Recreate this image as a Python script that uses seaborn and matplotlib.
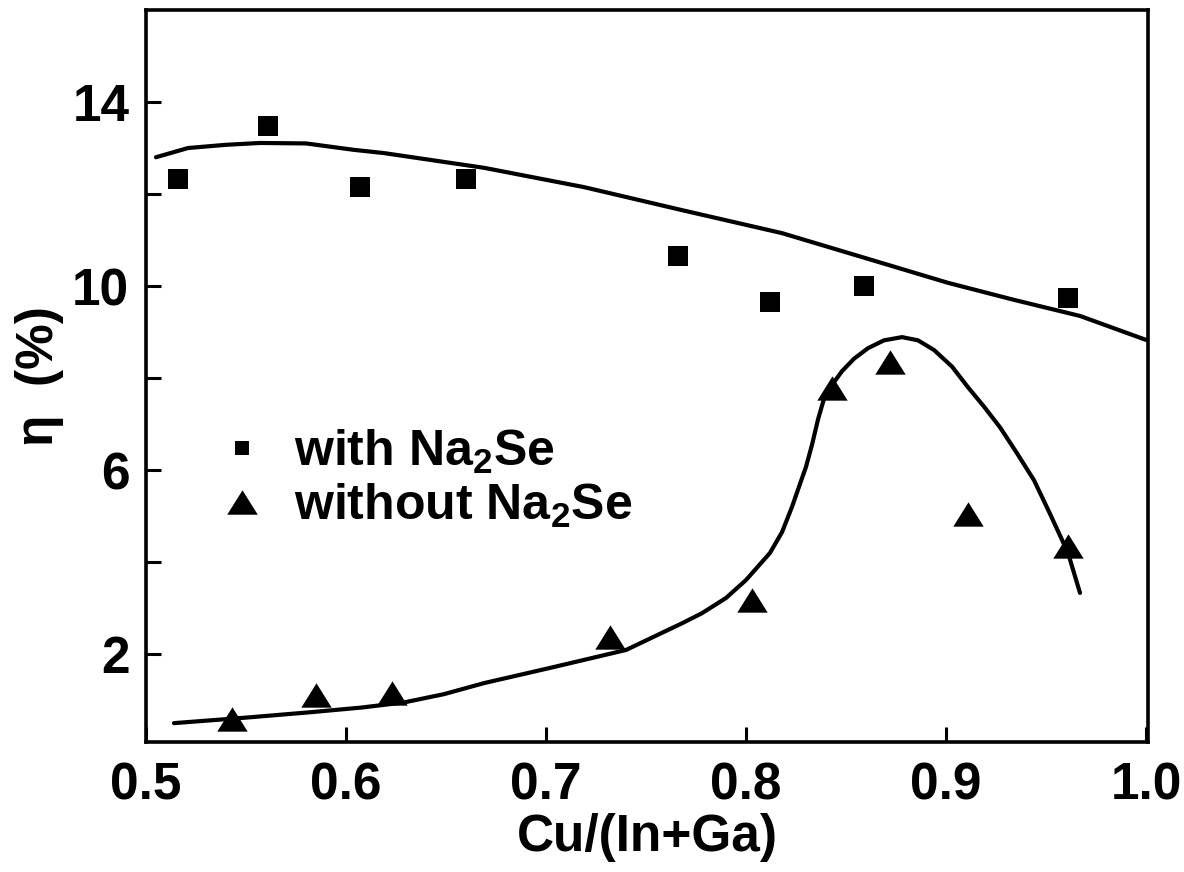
import matplotlib
matplotlib.use("Agg")
import matplotlib.pyplot as plt
from matplotlib.lines import Line2D
from matplotlib.ticker import FixedLocator
import seaborn as sns

# ---- data ----
x_with = [0.516, 0.561, 0.607, 0.660, 0.766, 0.812, 0.859, 0.961]
y_with = [12.33, 13.48, 12.15, 12.33, 10.65, 9.65, 10.00, 9.74]

x_without = [0.543, 0.585, 0.623, 0.732, 0.803, 0.843, 0.872, 0.911, 0.961]
y_without = [0.58, 1.11, 1.15, 2.37, 3.17, 7.78, 8.35, 5.04, 4.35]

fit_with_x = [0.505, 0.521, 0.540, 0.557, 0.580, 0.604, 0.619, 0.669, 0.719,
              0.768, 0.818, 0.868, 0.901, 0.934, 0.967, 1.000]
fit_with_y = [12.80, 13.00, 13.07, 13.11, 13.10, 12.96, 12.89, 12.57, 12.15,
              11.65, 11.15, 10.50, 10.07, 9.70, 9.35, 8.83]

fit_without_x = [0.514, 0.550, 0.583, 0.608, 0.629, 0.649, 0.669, 0.702, 0.740,
                 0.768, 0.778, 0.790,
                 0.800, 0.812, 0.818, 0.823, 0.827, 0.830, 0.833, 0.836, 0.839,
                 0.843, 0.848, 0.854, 0.861, 0.869, 0.878, 0.886, 0.894,
                 0.903, 0.911, 0.919, 0.927, 0.935, 0.944, 0.952, 0.961, 0.967]
fit_without_y = [0.50, 0.62, 0.74, 0.84, 0.95, 1.13, 1.37, 1.70, 2.09,
                 2.67, 2.89, 3.22,
                 3.61, 4.20, 4.65, 5.20, 5.70, 6.07, 6.55, 7.10, 7.55,
                 7.85, 8.15, 8.42, 8.65, 8.82, 8.89, 8.82, 8.61,
                 8.25, 7.80, 7.38, 6.93, 6.40, 5.78, 5.05, 4.20, 3.33]

x_ticks = [0.5, 0.6, 0.7, 0.8, 0.9, 1.0]
x_tick_labels = ["0.5", "0.6", "0.7", "0.8", "0.9", "1.0"]
y_major = [2, 6, 10, 14]
y_minor = [4, 8, 12]
legend_labels = ["with Na$_2$Se", "without Na$_2$Se"]
x_label = "Cu/(In+Ga)"
y_label = "η  (%)"

# ---- style ----
sns.set_theme(style="white")
plt.rcParams["font.family"] = ["Liberation Sans", "DejaVu Sans"]
plt.rcParams["font.weight"] = "bold"
plt.rcParams["text.color"] = "black"
plt.rcParams["axes.labelcolor"] = "black"
plt.rcParams["xtick.color"] = "black"
plt.rcParams["ytick.color"] = "black"
plt.rcParams["mathtext.fontset"] = "custom"
plt.rcParams["mathtext.rm"] = "Liberation Sans:bold"
plt.rcParams["mathtext.it"] = "Liberation Sans:bold"
plt.rcParams["mathtext.bf"] = "Liberation Sans:bold"
plt.rcParams["mathtext.default"] = "bf"

fig = plt.figure(figsize=(11.84, 8.72), dpi=100)
ax = fig.add_axes([146 / 1184, 1 - 742 / 872, (1148 - 146) / 1184, (742 - 10) / 872])

tri = [(-1, -0.8), (1, -0.8), (0, 0.8)]

sns.lineplot(x=fit_with_x, y=fit_with_y, color="black", lw=3.0, ax=ax,
             estimator=None, sort=False)
sns.lineplot(x=fit_without_x, y=fit_without_y, color="black", lw=3.0, ax=ax,
             estimator=None, sort=False)
sns.scatterplot(x=x_with, y=y_with, marker="s", s=225, color="black",
                linewidth=0, ax=ax, zorder=3)
sns.scatterplot(x=x_without, y=y_without, marker=tri, s=480, color="black",
                linewidth=0, ax=ax, zorder=3)

ax.set_xlim(0.503, 1.001)
ax.set_ylim(0.09, 16.0)

ax.set_xticks(x_ticks)
ax.set_xticklabels(x_tick_labels)
ax.yaxis.set_major_locator(FixedLocator(y_major))
ax.yaxis.set_minor_locator(FixedLocator(y_minor))
ax.set_yticklabels([str(v) for v in y_major])

ax.tick_params(axis="both", which="both", direction="in", length=11, width=2.2,
               color="black", labelcolor="black", labelsize=37, bottom=True,
               left=True, top=False, right=False)
ax.tick_params(axis="x", pad=14)
ax.tick_params(axis="y", pad=12)
for lab in ax.get_xticklabels() + ax.get_yticklabels():
    lab.set_fontweight("bold")

for sp in ax.spines.values():
    sp.set_visible(True)
    sp.set_color("black")
    sp.set_linewidth(2.6)

ax.set_xlabel(x_label, fontsize=37, fontweight="bold", labelpad=2, color="black")
ax.set_ylabel(y_label, fontsize=37, fontweight="bold", labelpad=6, color="black")

handles = [
    Line2D([], [], linestyle="none", marker="s", markersize=10, color="black",
           markeredgewidth=0),
    Line2D([], [], linestyle="none", marker=tri, markersize=22, color="black",
           markeredgewidth=0),
]
leg = ax.legend(handles, legend_labels, loc="upper left",
                bbox_to_anchor=(0.053, 0.457), frameon=False,
                prop={"size": 36, "weight": "bold"}, handlelength=0.9,
                handletextpad=0.6, labelspacing=0.12, borderaxespad=0)
for t in leg.get_texts():
    t.set_color("black")

fig.savefig("out.png", dpi=100)
